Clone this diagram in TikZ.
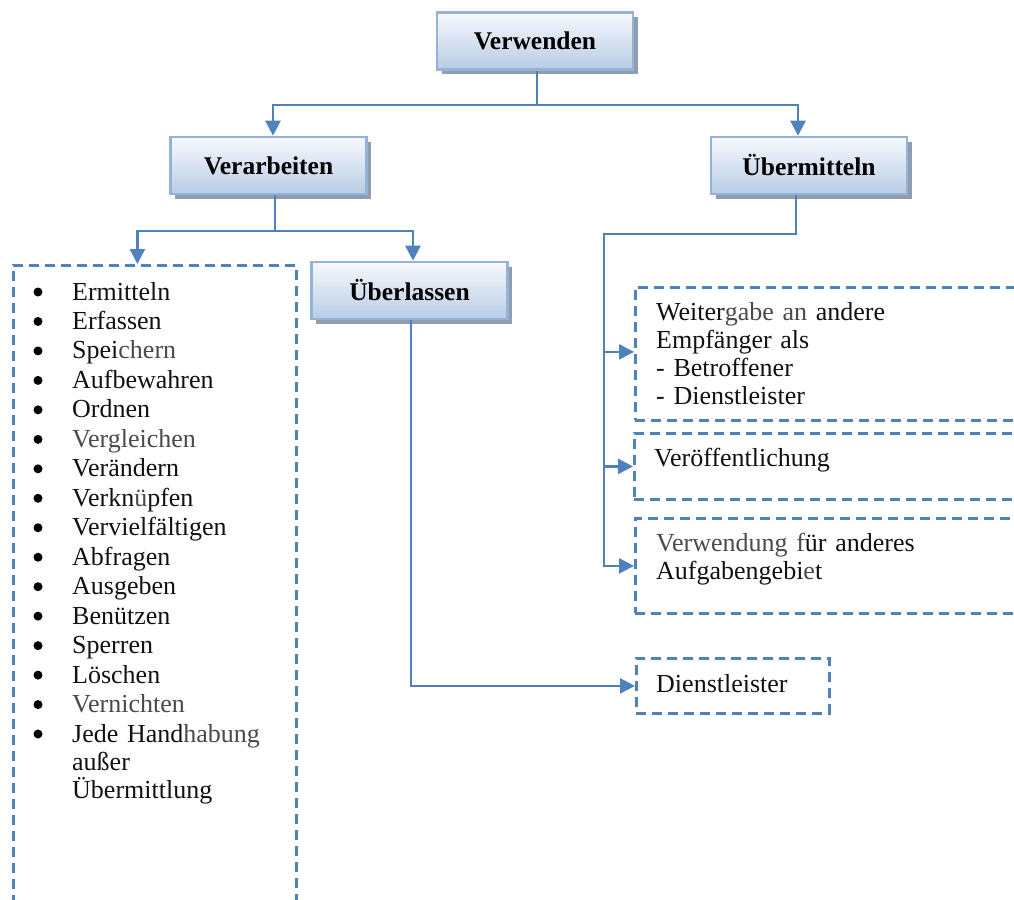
\documentclass[tikz,border=0pt]{standalone}
\usepackage{fontspec}
\setmainfont{Liberation Serif}
\usetikzlibrary{arrows.meta,shadows}
\definecolor{lineblue}{HTML}{4F81BD}
\definecolor{boxborder}{HTML}{95B3D7}
\definecolor{gradtop}{HTML}{F7F9FD}
\definecolor{gradbot}{HTML}{B8CCE4}
\definecolor{shadowgrey}{HTML}{8F9DB2}
\definecolor{txtblack}{HTML}{111111}
\definecolor{txtgrey}{HTML}{4A4A4A}
\begin{document}
\begin{tikzpicture}[x=1pt,y=-1pt,
  topbox/.style={draw=boxborder, line width=2.6pt, top color=gradtop, bottom color=gradbot,
    minimum width=196pt, minimum height=57pt, inner sep=0pt,
    font=\fontsize{25.5}{30}\selectfont\bfseries, text=black,
    drop shadow={shadow xshift=4.5pt, shadow yshift=-4.5pt, fill=shadowgrey, opacity=1}},
  dbox/.style={draw=lineblue, line width=2.8pt, dash pattern=on 10pt off 6pt,
    anchor=north west, inner sep=0pt},
  conn/.style={draw=lineblue, line width=2.5pt},
  arr/.style={conn, -{Triangle[length=15pt,width=15pt]}},
  txt/.style={anchor=base west, inner sep=0pt, font=\fontsize{26}{28}\selectfont, text=txtblack},
  bullet/.style={fill=black}
]
\useasboundingbox (0,0) rectangle (1014,899);
\clip (0,0) rectangle (1014,899);

% dashed boxes
\node[dbox, minimum width=283pt, minimum height=660pt] (lbox) at (12,264) {};
\node[dbox, minimum width=420pt, minimum height=133pt] (b1) at (634,286) {};
\node[dbox, minimum width=420pt, minimum height=66pt] (b2) at (633,432) {};
\node[dbox, minimum width=420pt, minimum height=95pt] (b3) at (634,517) {};
\node[dbox, minimum width=193pt, minimum height=55pt] (dienst) at (635,657) {};

% gradient boxes
\node[topbox] (verw) at (535,41) {Verwenden};
\node[topbox] (verarb) at (268.5,165.5) {Verarbeiten};
\node[topbox] (uberm) at (809,165.5) {Übermitteln};
\node[topbox] (uberl) at (409.5,290.5) {Überlassen};

% connectors
\coordinate (j1) at (537,105);
\coordinate (j2) at (275,231);
\coordinate (j3) at (796,234);
\coordinate (j4) at (604,234);
\coordinate (j5) at (604,566);
\draw[conn] (verw.south -| j1) -- (j1);
\draw[arr] (j1) -| ([xshift=4.5pt]verarb.north);
\draw[arr] (j1) -| ([xshift=-11pt]uberm.north);
\draw[conn] (verarb.south -| j2) -- (j2);
\draw[arr] (j2) -| ([xshift=-17.5pt]lbox.north);
\draw[arr] (j2) -| ([xshift=3.5pt]uberl.north);
\draw[arr] ([xshift=1.5pt]uberl.south) |- (dienst.west);
\draw[conn] (uberm.south -| j3) -- (j3) -- (j4) -- (j5);
\draw[arr] (j4) |- ([yshift=2pt]b1.west);
\draw[arr] (j4) |- (b2.west);
\draw[arr] (j4) |- (b3.west);

% list
\foreach \t [count=\i] in {Ermitteln, Erfassen, {Spei\textcolor{txtgrey}{chern}}, Aufbewahren, Ordnen,
  {\textcolor{txtgrey}{Vergleichen}}, Verändern, {Verkn\textcolor{txtgrey}{ü}pfen}, Vervielfältigen,
  Abfragen, Ausgeben, Benützen, Sperren, Löschen, {\textcolor{txtgrey}{Vernichten}}} {
  \node[txt] (item\i) at (72,{300+29.47*(\i-1)}) {\t};
  \fill[bullet] (38,{292+29.47*(\i-1)}) circle (4.5pt);
}
\node[txt, text width=230pt, align=left] (item16) at (72,742) {Jede Hand\textcolor{txtgrey}{habung}\\außer\\Übermittlung};
\fill[bullet] (38,734) circle (4.5pt);

% box texts
\node[txt, text width=340pt, align=left] (t1) at (656,320)
  {Weiter\textcolor{txtgrey}{gabe an} andere\\Empfänger als\\- Betroffener\\- Dienstleister};
\node[txt] (t2) at (654,466) {Veröffentlichung};
\node[txt, text width=340pt, align=left] (t3) at (656,551)
  {\textcolor{txtgrey}{Verwendung f}ür anderes\\Aufgabengebi\textcolor{txtgrey}{e}t};
\node[txt] (t4) at (656,692) {Dienstleister};
\end{tikzpicture}
\end{document}
